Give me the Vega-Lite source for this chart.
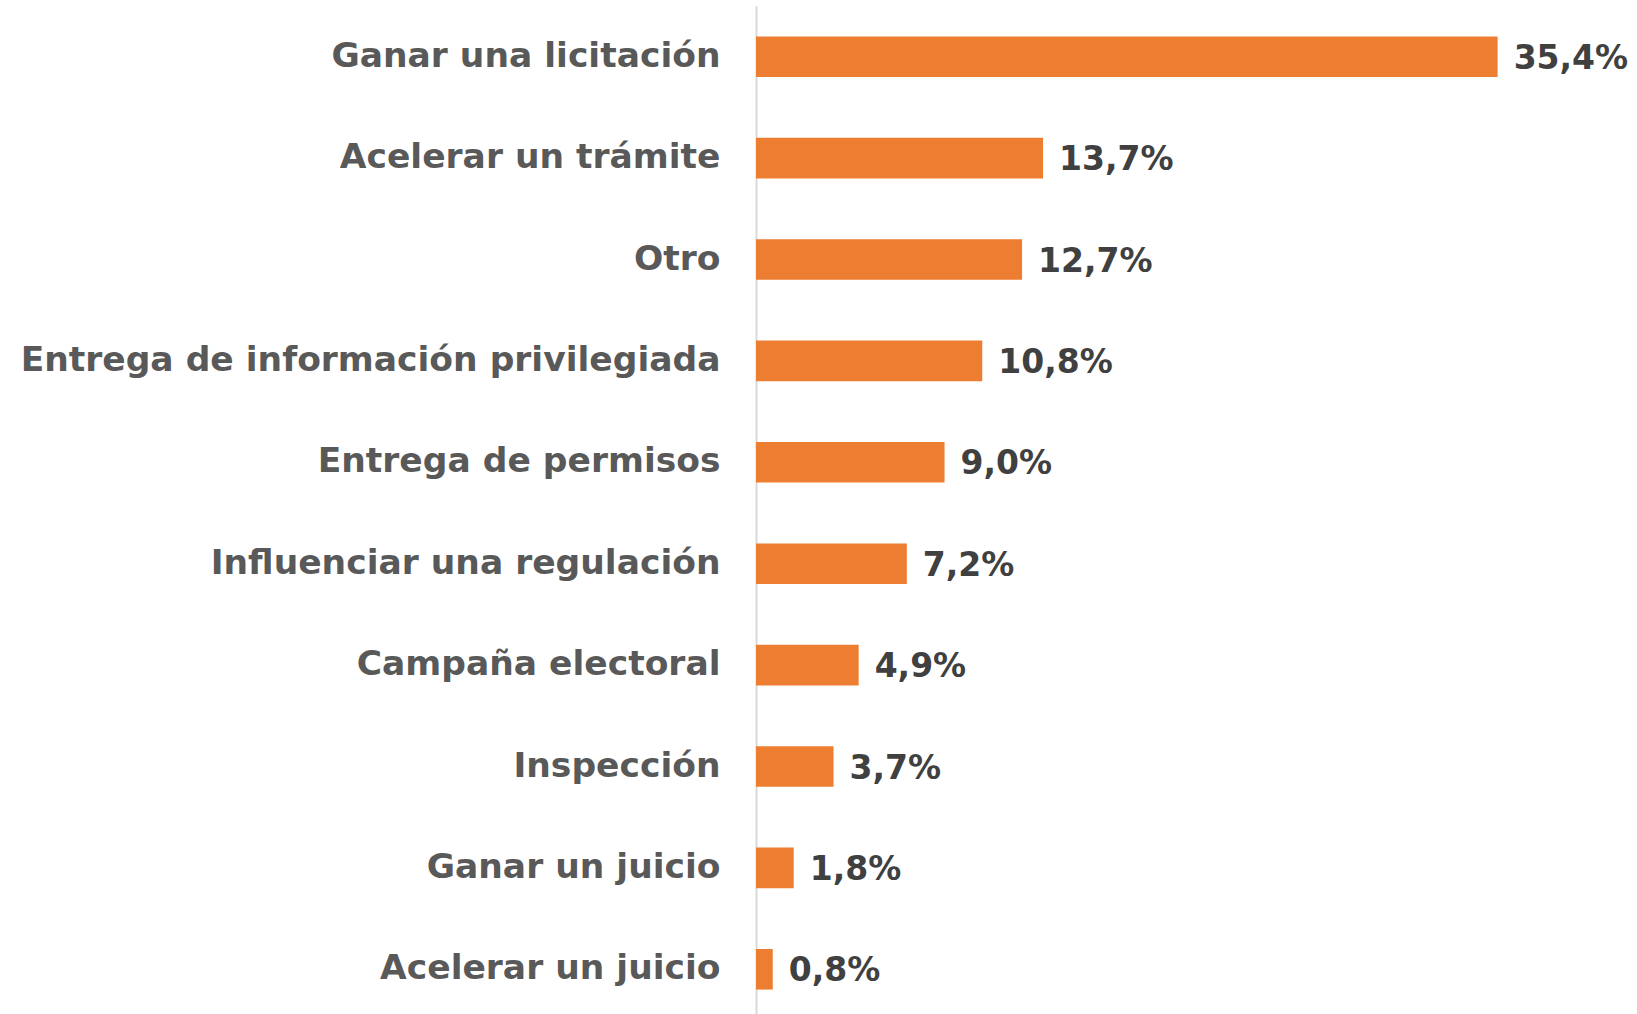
{
  "$schema": "https://vega.github.io/schema/vega-lite/v6.json",
  "width": 838,
  "height": 1014,
  "autosize": "none",
  "padding": {"left": 756, "top": 6, "right": 43, "bottom": 0},
  "background": "white",
  "config": {
    "view": {"stroke": null},
    "locale": {"number": {"decimal": ",", "thousands": ".", "grouping": [3], "currency": ["", " €"]}}
  },
  "data": {
    "values": [
      {"motivo": "Ganar una licitación", "valor": 0.354},
      {"motivo": "Acelerar un trámite", "valor": 0.137},
      {"motivo": "Otro", "valor": 0.127},
      {"motivo": "Entrega de información privilegiada", "valor": 0.108},
      {"motivo": "Entrega de permisos", "valor": 0.090},
      {"motivo": "Influenciar una regulación", "valor": 0.072},
      {"motivo": "Campaña electoral", "valor": 0.049},
      {"motivo": "Inspección", "valor": 0.037},
      {"motivo": "Ganar un juicio", "valor": 0.018},
      {"motivo": "Acelerar un juicio", "valor": 0.008}
    ]
  },
  "encoding": {
    "y": {
      "field": "motivo",
      "type": "nominal",
      "sort": null,
      "scale": {"paddingInner": 0.6, "paddingOuter": 0.3},
      "axis": {
        "title": null,
        "ticks": false,
        "grid": false,
        "domain": true,
        "domainColor": "#d9d9d9",
        "domainWidth": 2,
        "labelPadding": 36,
        "labelFont": "DejaVu Sans",
        "labelFontWeight": "bold",
        "labelFontSize": 34.5,
        "labelColor": "#595959",
        "labelLimit": 0
      }
    },
    "x": {
      "field": "valor",
      "type": "quantitative",
      "scale": {"domain": [0, 0.4]},
      "axis": null
    }
  },
  "layer": [
    {"mark": {"type": "bar", "color": "#ED7D31"}},
    {
      "mark": {"type": "text", "align": "left", "baseline": "middle", "dx": 16, "dy": 2, "font": "DejaVu Sans", "fontWeight": "bold", "fontSize": 33, "color": "#404040"},
      "encoding": {"text": {"field": "valor", "type": "quantitative", "format": ".1%"}}
    }
  ]
}
